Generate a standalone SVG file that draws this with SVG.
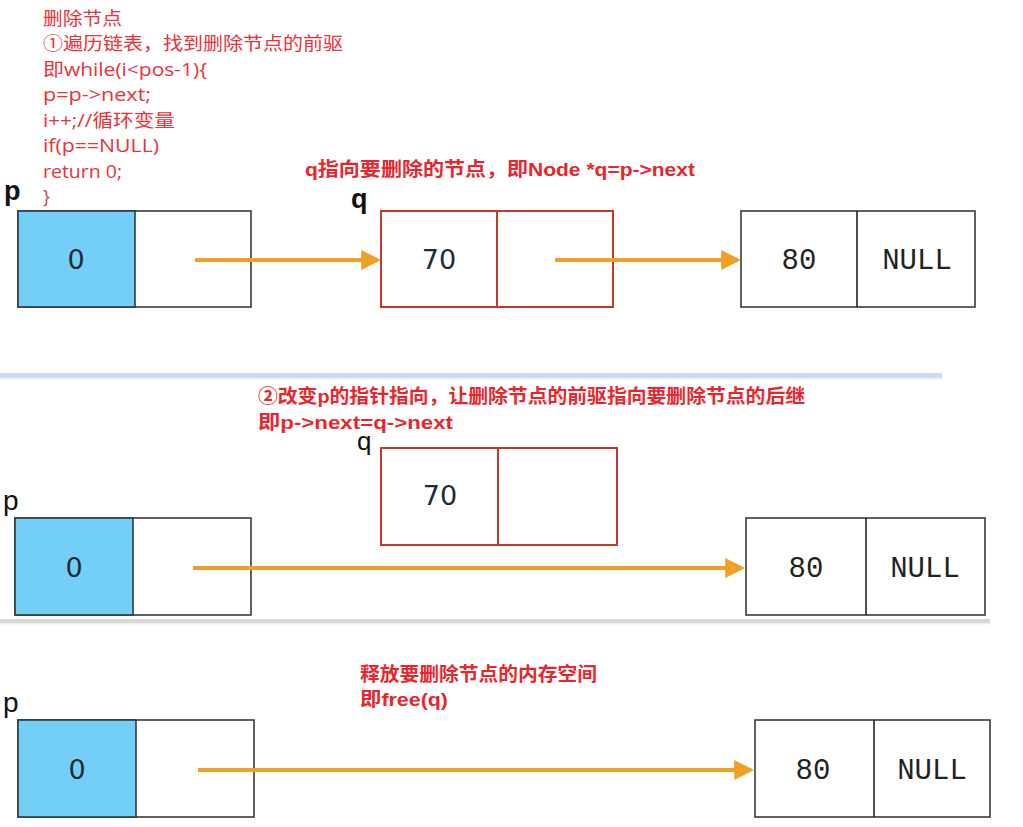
<svg xmlns="http://www.w3.org/2000/svg" width="1023" height="827" viewBox="0 0 1023 827">
<defs>
<style>
.code{font-family:"Open Sans","Noto Sans CJK SC",sans-serif;font-size:18.5px;fill:#e8323c;}
.head{font-family:"Liberation Sans","Noto Sans CJK SC",sans-serif;font-size:19px;font-weight:bold;fill:#e8262e;}
.lbl{font-family:"Liberation Sans",sans-serif;font-size:27px;font-weight:bold;fill:#111;}
.lbln{font-family:"Liberation Sans",sans-serif;font-size:28px;fill:#111;}
.box{fill:#fff;stroke:#3a3a3a;stroke-width:1.6;}
.blue{fill:#74cff7;stroke:#2d3a44;stroke-width:1.6;}
.rbox{fill:#fff;stroke:#c0392b;stroke-width:2;}
.val{font-family:"Liberation Mono","DejaVu Sans Mono",monospace;font-size:29px;fill:#222;text-anchor:middle;}
.sval{font-family:"DejaVu Sans","Liberation Sans",sans-serif;font-size:27px;fill:#1d2b36;text-anchor:middle;}
.arr{stroke:#f0a024;stroke-width:4;fill:none;marker-end:url(#ah);}
</style>
<marker id="ah" markerWidth="5" markerHeight="5" refX="4.2" refY="2.5" orient="auto" markerUnits="strokeWidth">
<path d="M0,0 L5,2.5 L0,5 Z" fill="#f0a024"/>
</marker>
<linearGradient id="sep1" x1="0" y1="0" x2="0" y2="1">
<stop offset="0" stop-color="#c5d8f0"/>
<stop offset="1" stop-color="#ffffff" stop-opacity="0"/>
</linearGradient>
<linearGradient id="sep2" x1="0" y1="0" x2="0" y2="1">
<stop offset="0" stop-color="#cfcfcf"/>
<stop offset="1" stop-color="#ffffff" stop-opacity="0"/>
</linearGradient>
</defs>
<rect width="1023" height="827" fill="#fff"/>

<!-- separators -->
<rect x="0" y="373" width="942" height="4" fill="#c9dbf1"/>
<rect x="0" y="377" width="942" height="4" fill="url(#sep1)"/>
<rect x="0" y="619" width="990" height="3" fill="#d8d8d8"/>
<rect x="0" y="622" width="990" height="4" fill="url(#sep2)"/>

<!-- panel 1 text -->
<g id="code-text">
<text class="code" x="43" y="25" textLength="79" lengthAdjust="spacingAndGlyphs">删除节点</text>
<text class="code" x="43" y="50" textLength="300" lengthAdjust="spacingAndGlyphs">①遍历链表，找到删除节点的前驱</text>
<text class="code" x="43" y="76" textLength="164" lengthAdjust="spacingAndGlyphs">即while(i&lt;pos-1){</text>
<text class="code" x="43" y="101" textLength="108" lengthAdjust="spacingAndGlyphs">p=p-&gt;next;</text>
<text class="code" x="43" y="127" textLength="132" lengthAdjust="spacingAndGlyphs">i++;//循环变量</text>
<text class="code" x="43" y="152" textLength="116" lengthAdjust="spacingAndGlyphs">if(p==NULL)</text>
<text class="code" x="43" y="178" textLength="79" lengthAdjust="spacingAndGlyphs">return 0;</text>
<text class="code" x="43" y="203">}</text>
</g>
<text class="head" x="305" y="176" textLength="390" lengthAdjust="spacingAndGlyphs">q指向要删除的节点，即Node *q=p-&gt;next</text>

<!-- panel 1 nodes -->
<g id="p1-label"><text class="lbl" x="4" y="200">p</text></g>
<g id="p1-node">
<rect class="box" x="18" y="211" width="233" height="96"/>
<rect class="blue" x="18" y="211" width="117" height="96"/>
<text class="sval" x="76" y="269">0</text>
</g>
<g id="q1-label"><text class="lbl" x="351" y="208">q</text></g>
<g id="q1-node">
<rect class="rbox" x="381" y="211" width="232" height="96"/>
<line x1="497" y1="211" x2="497" y2="307" stroke="#c0392b" stroke-width="2"/>
<text class="sval" x="439" y="269">70</text>
</g>
<g id="n80-1">
<rect class="box" x="741" y="211" width="234" height="96"/>
<line x1="857" y1="211" x2="857" y2="307" stroke="#222" stroke-width="1.6"/>
<text class="val" x="799" y="269">80</text>
<text class="val" x="917" y="269">NULL</text>
</g>

<!-- panel 2 -->
<text class="head" x="258" y="403" textLength="547" lengthAdjust="spacingAndGlyphs">②改变p的指针指向，让删除节点的前驱指向要删除节点的后继</text>
<text class="head" x="258" y="429" textLength="195" lengthAdjust="spacingAndGlyphs">即p-&gt;next=q-&gt;next</text>
<g id="q2-label"><text class="lbln" x="357" y="450" style="font-size:26px">q</text></g>
<g id="q2-node">
<rect class="rbox" x="381" y="448" width="236" height="97"/>
<line x1="498" y1="448" x2="498" y2="545" stroke="#c0392b" stroke-width="2"/>
<text class="sval" x="440" y="505">70</text>
</g>
<g id="p2-label"><text class="lbln" x="3" y="510">p</text></g>
<g id="p2-node">
<rect class="box" x="15" y="518" width="236" height="97"/>
<rect class="blue" x="15" y="518" width="118" height="97"/>
<text class="sval" x="74" y="577">0</text>
</g>
<g id="n80-2">
<rect class="box" x="746" y="518" width="239" height="97"/>
<line x1="866" y1="518" x2="866" y2="615" stroke="#222" stroke-width="1.6"/>
<text class="val" x="806" y="577">80</text>
<text class="val" x="925" y="577">NULL</text>
</g>

<!-- panel 3 -->
<text class="head" x="360" y="681" textLength="237" lengthAdjust="spacingAndGlyphs">释放要删除节点的内存空间</text>
<text class="head" x="360" y="706" textLength="88" lengthAdjust="spacingAndGlyphs">即free(q)</text>
<g id="p3-label"><text class="lbln" x="3" y="712">p</text></g>
<g id="p3-node">
<rect class="box" x="18" y="720" width="236" height="97"/>
<rect class="blue" x="18" y="720" width="118" height="97"/>
<text class="sval" x="77" y="779">0</text>
</g>
<g id="n80-3">
<rect class="box" x="755" y="720" width="235" height="97"/>
<line x1="874" y1="720" x2="874" y2="817" stroke="#222" stroke-width="1.6"/>
<text class="val" x="813" y="779">80</text>
<text class="val" x="932" y="779">NULL</text>
</g>

<!-- connectors -->
<g id="connectors">
<line class="arr" x1="195" y1="260" x2="378" y2="260"/>
<line class="arr" x1="555" y1="260" x2="738" y2="260"/>
<line class="arr" x1="193" y1="568" x2="742" y2="568"/>
<line class="arr" x1="198" y1="770" x2="751" y2="770"/>
</g>
</svg>
